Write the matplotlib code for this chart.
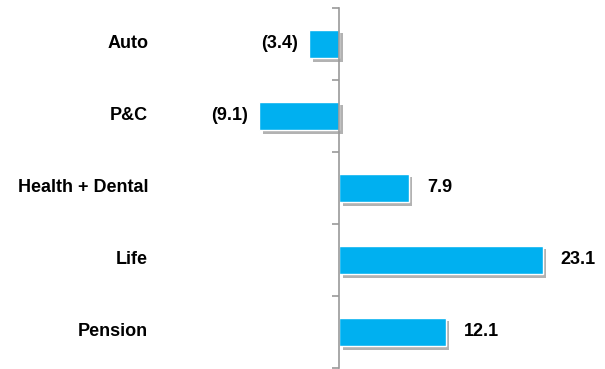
import matplotlib.pyplot as plt
import matplotlib.patheffects as pe
from matplotlib.transforms import blended_transform_factory

# ---------------- DATA ----------------
CATEGORIES = ["Auto", "P&C", "Health + Dental", "Life", "Pension"]
VALUES = [-3.4, -9.1, 7.9, 23.1, 12.1]
BAR_COLOR = "#00B0F0"
# --------------------------------------

def fmt(v):
    # accounting style: negatives in parentheses
    return f"({abs(v):.1f})" if v < 0 else f"{v:.1f}"

def main():
    plt.rcParams['font.family'] = ['Liberation Sans', 'DejaVu Sans']
    fs = 13

    fig = plt.figure(figsize=(6.05, 3.69), dpi=100)
    ax = fig.add_axes([157 / 605, 1 / 369, 443 / 605, 360 / 369])

    ypos = list(range(len(CATEGORIES)))
    shadow = [pe.SimplePatchShadow(offset=(2.5, -2.5), shadow_rgbFace='0.4', alpha=0.5),
              pe.Normal()]
    bars = ax.barh(ypos, VALUES, height=0.4, color=BAR_COLOR,
                   edgecolor='white', linewidth=1.0, zorder=3)
    for b in bars:
        b.set_path_effects(shadow)

    ax.set_ylim(len(CATEGORIES) - 0.5, -0.5)
    ax.set_xlim(-20.7, 29.6)

    # only the zero line stays, with ticks between categories
    for s in ['top', 'right', 'bottom']:
        ax.spines[s].set_visible(False)
    ax.spines['left'].set_position(('data', 0))
    ax.spines['left'].set_color('#999999')
    ax.spines['left'].set_linewidth(1.2)
    ax.spines['left'].set_zorder(4)
    ax.set_xticks([])
    ax.set_yticks([y - 0.5 for y in ypos] + [len(CATEGORIES) - 0.5])
    ax.set_yticklabels([])
    ax.tick_params(axis='y', direction='out', length=5, width=1.2, color='#999999')

    # category names at the left
    trans = blended_transform_factory(ax.transAxes, ax.transData)
    for y, name in zip(ypos, CATEGORIES):
        ax.text(-0.02, y, name, transform=trans, ha='right', va='center',
                fontsize=fs, fontweight='bold')

    # value labels next to each bar
    for y, v in zip(ypos, VALUES):
        if v < 0:
            ax.annotate(fmt(v), xy=(v, y), xytext=(-8, 0), textcoords='offset points',
                        ha='right', va='center', fontsize=fs, fontweight='bold')
        else:
            ax.annotate(fmt(v), xy=(v, y), xytext=(13, 0), textcoords='offset points',
                        ha='left', va='center', fontsize=fs, fontweight='bold')

    fig.savefig("out.png", dpi=100)

if __name__ == "__main__":
    main()
